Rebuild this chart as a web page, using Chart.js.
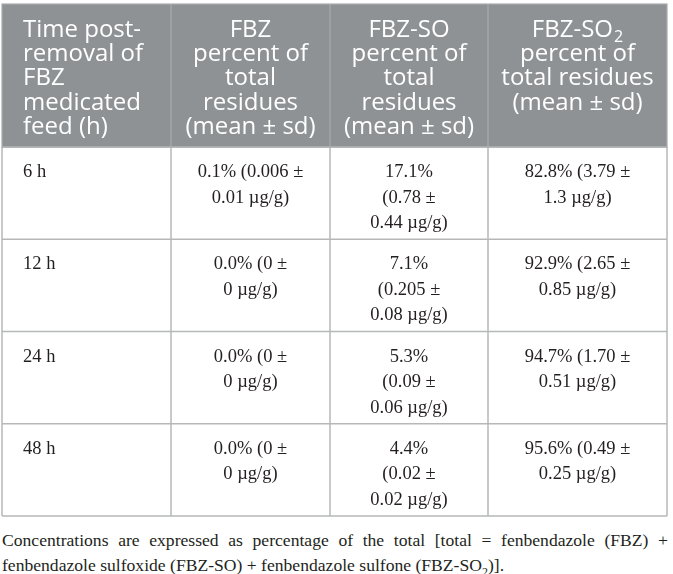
<!DOCTYPE html>
<html>
<head>
<meta charset="utf-8">
<title>FBZ residues</title>
<script src="https://cdn.jsdelivr.net/npm/chart.js@4.4.1/dist/chart.umd.min.js"></script>
<style>
	html, body { margin: 0; padding: 0; background: #fff; }
	#wrap { position: relative; width: 673px; height: 518px; }
	#note {
		margin: 10px 5px 0 2px;
		font-family: "Liberation Serif", serif;
		font-size: 17.6px;
		line-height: 25px;
		text-align: justify;
		color: #231f20;
	}
	#note sub { font-size: 12px; line-height: 0; }
</style>
</head>
<body>
<div id="wrap"><canvas id="residue-table"></canvas></div>
<p id="note">Concentrations are expressed as percentage of the total [total = fenbendazole (FBZ) + fenbendazole sulfoxide (FBZ-SO) + fenbendazole sulfone (FBZ-SO<sub>2</sub>)].</p>
<script>

// table values
var timePoints = ["6 h", "12 h", "24 h", "48 h"];

var fbzPercent = ["0.1", "0.0", "0.0", "0.0"];
var fbzMean = ["0.006", "0", "0", "0"];
var fbzSd = ["0.01", "0", "0", "0"];

var soPercent = ["17.1", "7.1", "5.3", "4.4"];
var soMean = ["0.78", "0.205", "0.09", "0.02"];
var soSd = ["0.44", "0.08", "0.06", "0.02"];

var so2Percent = ["82.8", "92.9", "94.7", "95.6"];
var so2Mean = ["3.79", "2.65", "1.70", "0.49"];
var so2Sd = ["1.3", "0.85", "0.51", "0.25"];

// header lines, "_2" marks a subscript
var headerLines = [
	["Time post-", "removal of", "FBZ", "medicated", "feed (h)"],
	["FBZ", "percent of", "total", "residues", "(mean \u00b1 sd)"],
	["FBZ-SO", "percent of", "total", "residues", "(mean \u00b1 sd)"],
	["FBZ-SO_2", "percent of", "total residues", "(mean \u00b1 sd)"]
];

// layout (table units = px)
var colWidths = [169, 159, 158, 179];
var headerHeight = 143;
var rowHeight = 92.25;

var headSize = 24;
var bodyFont = "18.5px 'Liberation Serif'";

// cell text for each value column, split where the reference breaks lines
function twoLines(pct, mean, sd) {
	return [pct + "% (" + mean + " \u00b1", sd + " \u00b5g/g)"];
}
function threeLines(pct, mean, sd) {
	return [pct + "%", "(" + mean + " \u00b1", sd + " \u00b5g/g)"];
}

function cellLines(col, row) {
	if (col === 0) return [timePoints[row]];
	if (col === 1) return twoLines(fbzPercent[row], fbzMean[row], fbzSd[row]);
	if (col === 2) return threeLines(soPercent[row], soMean[row], soSd[row]);
	return twoLines(so2Percent[row], so2Mean[row], so2Sd[row]);
}

function cumulative(list, start) {
	var out = [start];
	list.forEach(function(v) { out.push(out[out.length - 1] + v); });
	return out;
}

// text with an optional "_2" subscript
function drawRich(ctx, text, x, y, align, size) {
	var parts = text.split("_");
	var main = parts[0], sub = parts[1] || "";
	ctx.font = size + "px 'Open Sans'";
	var w1 = ctx.measureText(main).width;
	ctx.font = Math.round(size * 0.68) + "px 'Open Sans'";
	var w2 = sub ? ctx.measureText(sub).width + 1 : 0;
	var left = align === "center" ? x - (w1 + w2) / 2 : x;
	ctx.textAlign = "left";
	ctx.font = size + "px 'Open Sans'";
	ctx.fillText(main, left, y);
	if (sub) {
		ctx.font = Math.round(size * 0.68) + "px 'Open Sans'";
		ctx.fillText(sub, left + w1 + 1, y + size * 0.22);
	}
}

var tablePlugin = {
	id: "residueTable",
	afterDraw: function(chart) {
		var ctx = chart.ctx;
		var xs = chart.scales.x, ys = chart.scales.y;
		var colEdges = cumulative(colWidths, 0).map(function(v) { return xs.getPixelForValue(v); });
		var rowVals = cumulative(timePoints.map(function() { return rowHeight; }), headerHeight);
		var rowEdges = [ys.getPixelForValue(0)].concat(rowVals.map(function(v) { return ys.getPixelForValue(v); }));
		var left = colEdges[0], right = colEdges[colEdges.length - 1];
		var top = rowEdges[0], bottom = rowEdges[rowEdges.length - 1];

		ctx.save();

		// header band
		ctx.fillStyle = "#8e9295";
		ctx.fillRect(left, top, right - left, rowEdges[1] - top);

		// header dividers
		ctx.strokeStyle = "#a9acae";
		ctx.lineWidth = 1.2;
		for (var c = 1; c < colEdges.length - 1; c++) {
			ctx.beginPath();
			ctx.moveTo(colEdges[c], top);
			ctx.lineTo(colEdges[c], rowEdges[1]);
			ctx.stroke();
		}

		// body grid
		ctx.strokeStyle = "#b5b8b6";
		ctx.lineWidth = 1.5;
		for (var r = 1; r < rowEdges.length; r++) {
			ctx.beginPath();
			ctx.moveTo(left, rowEdges[r]);
			ctx.lineTo(right, rowEdges[r]);
			ctx.stroke();
		}
		for (var c2 = 0; c2 < colEdges.length; c2++) {
			ctx.beginPath();
			ctx.moveTo(colEdges[c2], rowEdges[1]);
			ctx.lineTo(colEdges[c2], bottom);
			ctx.stroke();
		}
		// outer frame of header
		ctx.strokeStyle = "#a9acae";
		ctx.lineWidth = 1.2;
		ctx.strokeRect(left, top, right - left, rowEdges[1] - top);

		// header text
		ctx.fillStyle = "#ffffff";
		ctx.textBaseline = "alphabetic";
		headerLines.forEach(function(lines, col) {
			var cx = col === 0 ? colEdges[0] + 21 : (colEdges[col] + colEdges[col + 1]) / 2;
			lines.forEach(function(line, i) {
				drawRich(ctx, line, cx, top + 33 + i * 24.2, col === 0 ? "left" : "center", headSize);
			});
		});

		// body text
		ctx.fillStyle = "#231f20";
		ctx.font = bodyFont;
		for (var row = 0; row < timePoints.length; row++) {
			var y0 = rowEdges[row + 1] + 30;
			for (var col = 0; col < colWidths.length; col++) {
				var lines = cellLines(col, row);
				var x = col === 0 ? colEdges[0] + 21 : (colEdges[col] + colEdges[col + 1]) / 2;
				ctx.textAlign = col === 0 ? "left" : "center";
				lines.forEach(function(line, i) {
					ctx.fillText(line, x, y0 + i * 25.5);
				});
			}
		}
		ctx.restore();
	}
};

var totalWidth = colWidths.reduce(function(a, b) { return a + b; }, 0);
var totalHeight = headerHeight + rowHeight * timePoints.length;

var chart = new Chart(document.getElementById("residue-table"), {
	type: "scatter",
	data: { datasets: [] },
	options: {
		responsive: true,
		maintainAspectRatio: false,
		animation: false,
		events: [],
		layout: { padding: { left: 2, right: 6, top: 4, bottom: 2 } },
		scales: {
			x: { type: "linear", min: 0, max: totalWidth, display: false },
			y: { type: "linear", min: 0, max: totalHeight, reverse: true, display: false }
		},
		plugins: {
			legend: { display: false },
			tooltip: { enabled: false }
		}
	},
	plugins: [tablePlugin]
});

</script>
</body>
</html>
